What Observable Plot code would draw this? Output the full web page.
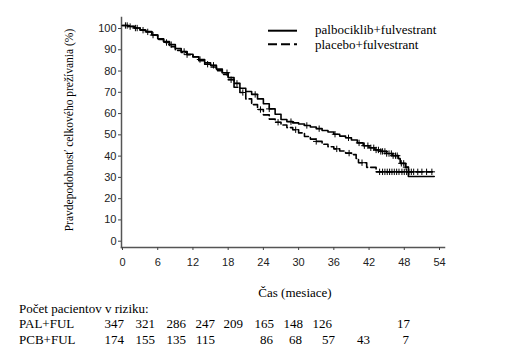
<!DOCTYPE html>
<html>
<head>
<meta charset="utf-8">
<script src="https://cdn.jsdelivr.net/npm/d3@7"></script>
<script src="https://cdn.jsdelivr.net/npm/@observablehq/plot@0.6"></script>
<style>
  body { margin: 0; background: #fff; }
  #wrap { position: relative; width: 505px; height: 351px; overflow: hidden; color: #000; }
  .t { position: absolute; font-family: 'Liberation Serif', 'Times New Roman', 'DejaVu Serif', serif; font-size: 13px; line-height: 14px; white-space: nowrap; }
  .r { transform: translateX(-100%); }
</style>
</head>
<body>
<div id="wrap"></div>
<script>
// ---- data ----
const palTime = [0,1,2,3,4,5,6,7,8,9,10,11,12,13,14,15,16,17,18,19,20,21,22,23,24,25,26,27,28,29,30,31,32,33,34,35,36,37,38,39,40,41,42,43,44,45,46,47,47.3,48.2,48.7,53.1];
const palSurv = [100,99.5,98.8,97.8,97.2,95.5,93.8,92.5,91,89.2,87.8,86.5,85.3,84,82.5,81.3,79.5,77.8,75.5,72.8,70.5,69,67.6,65.5,63.2,60.8,58.3,55.8,54.8,54.2,53.7,53,52.3,51.5,50.6,49.9,48.9,48,47.2,46.2,44.8,43.5,42.5,41.5,40.8,39.8,38.8,37.4,35.2,33.4,29,29];
const pcbTime = [0,1,2,3,4,5,6,7,8,9,10,11,12,13,14,15,16,17,18,19,20,21,22,23,24,25,26,27,28,29,30,31,32,33,34,35,36,37,38,39,39.8,40.2,41.6,43.2,52.8];
const pcbSurv = [100,99.6,98.8,98,97,95.5,93.5,92,90,88.3,87.3,86.3,85.2,83.4,81.8,80.5,78.8,77,74.5,71,68.5,65.5,62.8,60.5,58,56,54.5,53.2,52,51,49.5,47.8,46.6,45.5,44.2,43,42,41,40,39.3,37.5,35.5,33.3,31.2,31.2];
const palCensor = [0.5,1.3,2.2,3.5,5.2,8.3,10.5,13.2,15.5,17.8,19.5,22.6,25,28.7,31.4,33.5,36.2,38.5,40.3,41.2,41.8,42.3,42.8,43.2,43.6,44,44.3,44.7,45,45.4,45.8,46.1,46.5,46.8,47.5,47.9,48.3];
const pcbCensor = [0.8,2.5,4.3,7.5,11,14.5,18.5,20.5,23.5,26.5,29.5,33,36.5,38.6,40.8,43.8,44.3,44.7,45.1,45.5,45.9,46.3,46.7,47.1,47.6,48,48.4,48.8,49.2,49.6,50.3,51,51.8,52.7];
const xTicks = [0,6,12,18,24,30,36,42,48,54];
const yTicks = [0,10,20,30,40,50,60,70,80,90,100];
const seriesNames = ["palbociklib+fulvestrant", "placebo+fulvestrant"];
const riskTitle = "Počet pacientov v riziku:";
const riskLabels = ["PAL+FUL", "PCB+FUL"];
const riskPAL = [347,321,286,247,209,165,148,126,17];
const riskPCB = [174,155,135,115,86,68,57,43,7];
const xLabel = "Čas (mesiace)";
const yLabel = "Pravdepodobnosť celkového prežívania (%)";

// ---- layout (pixel positions of the risk table columns, right edges) ----
const palCols = [124,155,186,215,243,274,303,332,410];
const pcbCols = [124,155,186,215,273,302,335,370,409];

const pal = palTime.map((t, i) => ({t, s: palSurv[i]}));
const pcb = pcbTime.map((t, i) => ({t, s: pcbSurv[i]}));
function survAt(rows, t) {
  let v = rows[0].s;
  for (const r of rows) { if (r.t <= t) v = r.s; else break; }
  return v;
}
const palC = palCensor.map(t => ({t, s: survAt(pal, t)}));
const pcbC = pcbCensor.map(t => ({t, s: survAt(pcb, t)}));

const chart = Plot.plot({
  width: 505,
  height: 351,
  marginLeft: 121, marginRight: 61, marginTop: 17, marginBottom: 104,
  insetLeft: 1, insetRight: 5, insetTop: 8, insetBottom: 9.3,
  style: {fontFamily: "'Liberation Sans', Arial, sans-serif", fontSize: "11px", background: "#fff"},
  x: {domain: [0, 54]},
  y: {domain: [0, 100]},
  marks: [
    Plot.frame({anchor: "left", stroke: "#555", strokeWidth: 1.5}),
    Plot.frame({anchor: "bottom", stroke: "#555", strokeWidth: 1.5}),
    Plot.axisX({ticks: xTicks, tickSize: 3, tickPadding: 8, stroke: "#444", fill: "#222", label: null}),
    Plot.axisY({ticks: yTicks, tickSize: 3, tickPadding: 2, stroke: "#444", fill: "#222", dy: 3, label: null}),
    Plot.line(pal, {x: "t", y: "s", curve: "step-after", stroke: "#000", strokeWidth: 1.6}),
    Plot.line(pcb, {x: "t", y: "s", curve: "step-after", stroke: "#000", strokeWidth: 1.6, strokeDasharray: "7,3"}),
    Plot.dot(palC, {x: "t", y: "s", symbol: "plus", r: 2.2, stroke: "#000", strokeWidth: 1}),
    Plot.dot(pcbC, {x: "t", y: "s", symbol: "plus", r: 2.2, stroke: "#000", strokeWidth: 1})
  ]
});

const wrap = document.getElementById("wrap");
wrap.appendChild(chart);

function addText(txt, left, centerY, right) {
  const d = document.createElement("div");
  d.className = "t" + (right ? " r" : "");
  d.textContent = txt;
  d.style.left = left + "px";
  d.style.top = (centerY - 7) + "px";
  wrap.appendChild(d);
  return d;
}

// legend
const leg = document.createElementNS("http://www.w3.org/2000/svg", "svg");
leg.setAttribute("width", 505); leg.setAttribute("height", 60);
leg.style.position = "absolute"; leg.style.left = "0px"; leg.style.top = "0px";
leg.innerHTML =
  '<line x1="268" x2="297" y1="30.7" y2="30.7" stroke="#000" stroke-width="2"/>' +
  '<line x1="268" x2="297" y1="44.3" y2="44.3" stroke="#000" stroke-width="2" stroke-dasharray="9,4"/>';
wrap.appendChild(leg);
addText(seriesNames[0], 315, 30);
addText(seriesNames[1], 315, 44.5);

// axis labels
const xl = addText(xLabel, 295, 293);
xl.style.transform = "translateX(-50%)";
const yl = addText(yLabel, 69, 130);
yl.style.fontSize = "11.5px";
yl.style.transform = "translate(-50%, 0) rotate(-90deg)";
yl.style.transformOrigin = "50% 50%";

// risk table
addText(riskTitle, 19, 309);
addText(riskLabels[0], 19, 324);
addText(riskLabels[1], 19, 340);
riskPAL.forEach((v, i) => addText(String(v), palCols[i], 324, true));
riskPCB.forEach((v, i) => addText(String(v), pcbCols[i], 340, true));
</script>
</body>
</html>
